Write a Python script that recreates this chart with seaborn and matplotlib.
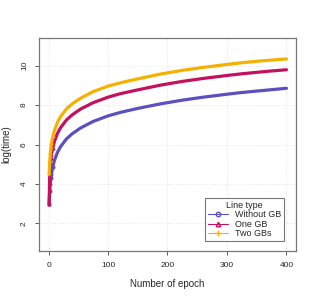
import pandas as pd
import numpy as np
import matplotlib
matplotlib.use('Agg')
import matplotlib.pyplot as plt
import seaborn as sns
from matplotlib.lines import Line2D

# values
epochs = [1, 2, 3, 4, 5, 7, 10, 15, 20, 30, 40, 54, 75, 100, 121, 150, 188, 225, 260, 300, 323, 350, 375, 400]
without_gb = [2.96, 3.62, 4.02, 4.30, 4.52, 4.85, 5.20, 5.60, 5.88, 6.28, 6.55, 6.84, 7.17, 7.45, 7.63, 7.83, 8.06, 8.25, 8.40, 8.55, 8.63, 8.71, 8.78, 8.85]
one_gb = [2.96, 4.45, 5.05, 5.33, 5.52, 5.83, 6.16, 6.56, 6.84, 7.24, 7.51, 7.80, 8.12, 8.40, 8.58, 8.77, 9.01, 9.20, 9.35, 9.50, 9.58, 9.66, 9.73, 9.79]
two_gbs = [4.48, 5.10, 5.54, 5.82, 6.04, 6.37, 6.72, 7.12, 7.40, 7.80, 8.07, 8.35, 8.68, 8.96, 9.13, 9.33, 9.57, 9.76, 9.91, 10.06, 10.14, 10.22, 10.28, 10.34]
series_names = ['Without GB', 'One GB', 'Two GBs']

colors = ['#5a50be', '#c4105e', '#f5b000']
markers = ['o', '^', '+']

df = pd.DataFrame({'epoch': epochs * 3,
                   'logtime': without_gb + one_gb + two_gbs,
                   'type': np.repeat(series_names, len(epochs))})

sns.set_style('white')
plt.rcParams['font.family'] = ['Liberation Sans', 'DejaVu Sans']

fig = plt.figure(figsize=(3.16, 3.0), dpi=100)
ax = fig.add_axes([0.1234, 0.1633, 0.8133, 0.71])

for name, c, m in zip(series_names, colors, markers):
    sub = df[df['type'] == name]
    sns.lineplot(data=sub, x='epoch', y='logtime', color=c, linewidth=2.3,
                 marker=m, markersize=2.2, markeredgewidth=0.7, markevery=list(range(6)),
                 markerfacecolor=c, markeredgecolor=c, ax=ax, legend=False)

ax.set_xlim(-16, 416)
ax.set_ylim(0.6, 11.4)
ax.set_xticks([0, 100, 200, 300, 400])
ax.set_yticks([2, 4, 6, 8, 10])
ax.grid(True, color='#e4e4e4', linestyle=':', linewidth=0.7)
ax.tick_params(axis='both', labelsize=6, length=3, width=0.6, color='#444444',
               direction='out', bottom=True, left=True, pad=5)
for lab in ax.get_yticklabels():
    lab.set_rotation(90)
    lab.set_va('center')
for s in ax.spines.values():
    s.set_color('#777777')
    s.set_linewidth(0.9)
ax.set_xlabel('Number of epoch', fontsize=7, labelpad=7)
ax.set_ylabel('log(time)', fontsize=7, labelpad=7)

handles = [Line2D([0], [0], color=colors[0], lw=0.8, marker='o', markersize=3.2, markerfacecolor='none'),
           Line2D([0], [0], color=colors[1], lw=0.8, marker='^', markersize=3.2, markerfacecolor='none'),
           Line2D([0], [0], color=colors[2], lw=0.8, marker='+', markersize=4.5)]
leg = ax.legend(handles, series_names, title='Line type', fontsize=6.5, title_fontsize=6.5,
                loc='lower right', bbox_to_anchor=(0.955, 0.045), frameon=True, fancybox=False,
                handlelength=2.2, handletextpad=0.8, labelspacing=0.05, borderpad=0.35,
                borderaxespad=0.0)
leg.get_frame().set_edgecolor('#555555')
leg.get_frame().set_linewidth(0.8)

fig.savefig('out.png', dpi=100)
